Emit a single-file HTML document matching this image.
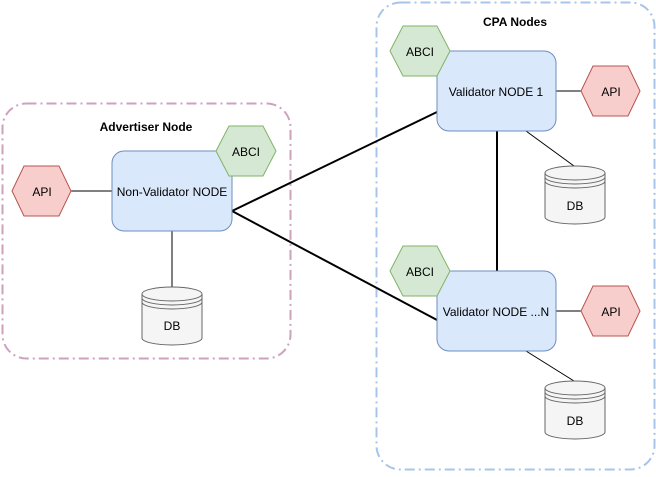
<!DOCTYPE html>
<html><head><style>html,body{margin:0;padding:0;background:#fff}</style></head><body>
<svg width="656" height="472" viewBox="0 0 656 472" xmlns="http://www.w3.org/2000/svg" font-family="Liberation Sans, Helvetica, sans-serif">
<defs>
<g id="db">
<path d="M0,7 A30,7 0 0 1 60,7 L60,51 A30,7 0 0 1 0,51 Z" fill="#f5f5f5" stroke="#666"/>
<path d="M0,7 A30,7 0 0 0 60,7 M0,11 A30,7 0 0 0 60,11 M0,15 A30,7 0 0 0 60,15" fill="none" stroke="#666"/>
</g>
</defs>
<rect x="2.5" y="103.5" width="288" height="255" rx="24" fill="none" stroke="#CDA2BE" stroke-width="2" stroke-dasharray="10 4 2 4"/>
<rect x="376.5" y="2.5" width="278" height="467" rx="24" fill="none" stroke="#A9C4EB" stroke-width="2" stroke-dasharray="10 4 2 4"/>
<text x="146" y="131" font-size="12" font-weight="bold" text-anchor="middle">Advertiser Node</text>
<text x="515" y="26" font-size="12" font-weight="bold" text-anchor="middle">CPA Nodes</text>
<g stroke="#000" fill="none">
<line x1="232" y1="211" x2="437" y2="112" stroke-width="2"/>
<line x1="232" y1="211" x2="437" y2="320" stroke-width="2"/>
<line x1="497" y1="131" x2="497" y2="271" stroke-width="2"/>
<line x1="71" y1="191" x2="112" y2="191"/>
<line x1="172" y1="231" x2="172" y2="287"/>
<line x1="556" y1="91" x2="581" y2="91"/>
<line x1="526" y1="131" x2="574" y2="166"/>
<line x1="556" y1="311" x2="581" y2="311"/>
<line x1="526" y1="351" x2="574" y2="381"/>
</g>
<g fill="#dae8fc" stroke="#6c8ebf">
<rect x="112" y="151" width="120" height="80" rx="12"/>
<rect x="437" y="51" width="119" height="80" rx="12"/>
<rect x="437" y="271" width="119" height="80" rx="12"/>
</g>
<g font-size="12" text-anchor="middle">
<text x="172" y="196">Non-Validator NODE</text>
<text x="496" y="96">Validator NODE 1</text>
<text x="496" y="316">Validator NODE ...N</text>
</g>
<g fill="#d5e8d4" stroke="#82b366">
<polygon points="216,151 229,126 263,126 276,151 263,176 229,176"/>
<polygon points="390,51 403,26 437,26 450,51 437,76 403,76"/>
<polygon points="390,271 403,246 437,246 450,271 437,296 403,296"/>
</g>
<g fill="#f8cecc" stroke="#b85450">
<polygon points="12,191 24,166 59,166 71,191 59,216 24,216"/>
<polygon points="581,91 593,66 628,66 640,91 628,116 593,116"/>
<polygon points="581,311 593,286 628,286 640,311 628,336 593,336"/>
</g>
<g font-size="12" text-anchor="middle">
<text x="246" y="156">ABCI</text>
<text x="420" y="56">ABCI</text>
<text x="420" y="276">ABCI</text>
<text x="42" y="196">API</text>
<text x="611" y="96">API</text>
<text x="611" y="316">API</text>
</g>
<use href="#db" x="142" y="287"/>
<use href="#db" x="545" y="166"/>
<use href="#db" x="545" y="381"/>
<g font-size="12" text-anchor="middle">
<text x="172" y="330">DB</text>
<text x="575" y="210">DB</text>
<text x="575" y="425">DB</text>
</g>
</svg>
</body></html>
